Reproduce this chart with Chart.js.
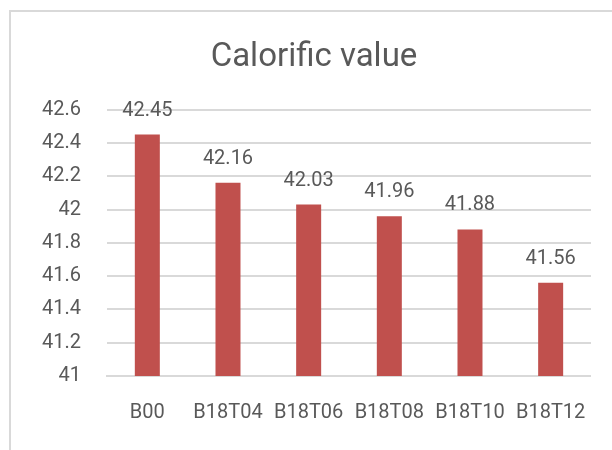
<!DOCTYPE html>
<html>
<head>
<meta charset="utf-8">
<script src="https://cdn.jsdelivr.net/npm/chart.js@4"></script>
<style>
  html, body { margin: 0; padding: 0; background: #fff; }
  #wrap { position: relative; width: 612px; height: 450px; overflow: hidden; }
  #frame { position: absolute; left: 9px; top: 10px; width: 700px; height: 500px; border: 2px solid #d9d9d9; box-sizing: border-box; }
  canvas { position: absolute; left: 0; top: 0; }
</style>
</head>
<body>
<div id="wrap">
  <div id="frame"></div>
  <canvas id="chart" width="612" height="450"></canvas>
</div>
<script>
const categories = ['B00', 'B18T04', 'B18T06', 'B18T08', 'B18T10', 'B18T12'];
const calorificValues = [42.45, 42.16, 42.03, 41.96, 41.88, 41.56];
const yTicks = [41, 41.2, 41.4, 41.6, 41.8, 42, 42.2, 42.4, 42.6];

const fontFamily = "Roboto, 'Liberation Sans', sans-serif";
const textColor = '#595959';
const gridColor = '#d9d9d9';

// value labels above each bar, positioned from the bar elements
const valueLabels = {
    id: 'valueLabels',
    afterDatasetsDraw(chart) {
        const ctx = chart.ctx;
        const meta = chart.getDatasetMeta(0);
        ctx.save();
        ctx.font = '20px ' + fontFamily;
        ctx.fillStyle = textColor;
        ctx.textAlign = 'center';
        ctx.textBaseline = 'middle';
        meta.data.forEach((bar, i) => {
            ctx.fillText(calorificValues[i].toFixed(2), bar.x, bar.y - 24);
        });
        ctx.restore();
    }
};

new Chart(document.getElementById('chart'), {
    type: 'bar',
    data: {
        labels: categories,
        datasets: [{
            label: 'Calorific value',
            data: calorificValues,
            backgroundColor: '#C0504D',
            borderWidth: 0,
            barPercentage: 0.62,
            categoryPercentage: 0.5
        }]
    },
    options: {
        responsive: false,
        animation: false,
        layout: {
            padding: { left: 16, right: 0, top: 23, bottom: 0 }
        },
        plugins: {
            legend: { display: false },
            tooltip: { enabled: false },
            title: {
                display: true,
                text: 'Calorific value',
                color: textColor,
                font: { family: fontFamily, size: 33, weight: 'normal' },
                padding: { top: 15, bottom: 32 }
            }
        },
        scales: {
            x: {
                grid: { display: false, drawTicks: false },
                border: { display: true, color: gridColor, width: 2 },
                ticks: {
                    color: textColor,
                    font: { family: fontFamily, size: 20 },
                    padding: 25,
                    maxRotation: 0
                }
            },
            y: {
                min: 41,
                max: 42.6,
                afterBuildTicks(axis) {
                    axis.ticks = yTicks.map(v => ({ value: v }));
                },
                grid: { color: gridColor, lineWidth: 2, drawTicks: false },
                border: { display: false },
                ticks: {
                    color: textColor,
                    font: { family: fontFamily, size: 20 },
                    padding: 26,
                    callback: v => String(Math.round(v * 10) / 10)
                }
            },
            // empty right-hand axis, only keeps a margin after the plot
            yRight: {
                position: 'right',
                grid: { display: false, drawTicks: false },
                border: { display: false },
                ticks: { display: false },
                afterFit(axis) {
                    axis.width = 20;
                }
            }
        }
    },
    plugins: [valueLabels]
});
</script>
</body>
</html>
